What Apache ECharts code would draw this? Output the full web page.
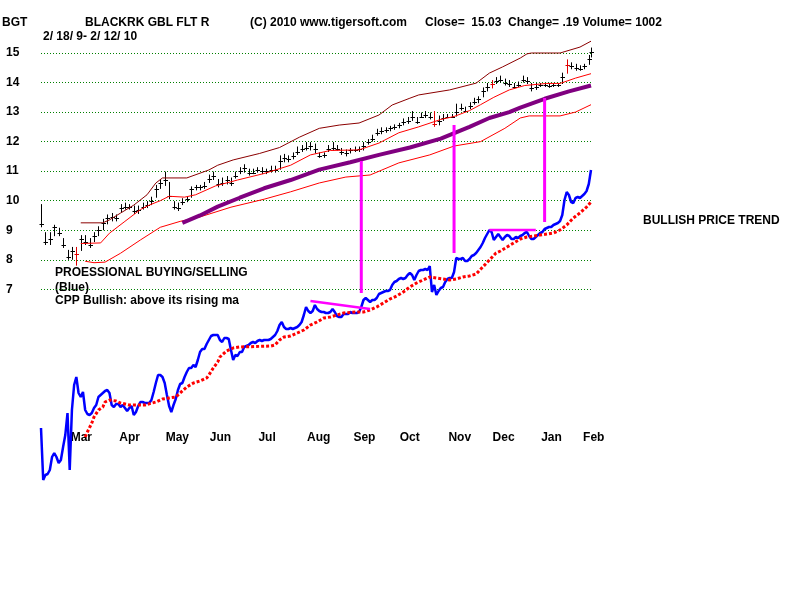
<!DOCTYPE html>
<html>
<head>
<meta charset="utf-8">
<title>BGT - BLACKRK GBL FLT R</title>
<script src="https://cdn.jsdelivr.net/npm/echarts@6/dist/echarts.min.js"></script>
<style>
  html, body { margin: 0; padding: 0; background: #fff; }
  #chart { width: 800px; height: 600px; }
</style>
</head>
<body>
<div id="chart"></div>
<script>
const FONT = '"Liberation Sans", Arial, sans-serif'

// trading day index (0 = 2/18/09 ... 249 = 2/12/10)
const monthDays = [8, 30, 51, 71, 93, 115, 136, 157, 179, 199, 221, 240]
const monthNames = ['Mar', 'Apr', 'May', 'Jun', 'Jul', 'Aug', 'Sep', 'Oct', 'Nov', 'Dec', 'Jan', 'Feb']

// price bars: [day, low, high, close]
const priceBars = [
  [0, 9.1, 9.85, 9.2], [2, 8.5, 8.9, 8.6], [4, 8.5, 8.9, 8.7], [6, 8.8, 9.15, 9.1],
  [8, 8.8, 9.05, 8.9], [10, 8.4, 8.7, 8.5], [12, 8.0, 8.3, 8.1], [14, 8.0, 8.4, 8.3],
  [16, 7.8, 8.4, 8.2], [18, 8.3, 8.8, 8.7], [20, 8.5, 8.8, 8.6], [22, 8.4, 8.7, 8.5],
  [24, 8.6, 8.9, 8.8], [26, 8.8, 9.1, 9.0], [28, 9.0, 9.35, 9.25], [30, 9.2, 9.5, 9.4],
  [32, 9.3, 9.55, 9.45], [34, 9.3, 9.5, 9.4], [36, 9.6, 9.85, 9.75], [38, 9.7, 9.9, 9.8],
  [40, 9.7, 9.85, 9.8], [42, 9.55, 9.8, 9.65], [44, 9.55, 9.8, 9.7], [46, 9.7, 9.9, 9.8],
  [48, 9.75, 9.95, 9.85], [50, 9.85, 10.1, 10.0], [52, 10.1, 10.5, 10.4], [54, 10.4, 10.7, 10.6],
  [56, 10.5, 10.95, 10.7], [58, 10.05, 10.6, 10.15], [60, 9.7, 9.95, 9.8], [62, 9.65, 9.9, 9.75],
  [64, 9.85, 10.05, 9.95], [66, 9.95, 10.1, 10.05], [68, 10.1, 10.45, 10.4], [70, 10.35, 10.5, 10.45],
  [72, 10.35, 10.5, 10.45], [74, 10.4, 10.6, 10.5], [76, 10.6, 10.85, 10.75], [78, 10.7, 10.95, 10.85],
  [80, 10.45, 10.7, 10.55], [82, 10.5, 10.75, 10.6], [84, 10.55, 10.8, 10.7], [86, 10.5, 10.75, 10.6],
  [88, 10.75, 10.95, 10.85], [90, 10.9, 11.1, 11.0], [92, 10.95, 11.2, 11.1], [94, 10.85, 11.05, 10.95],
  [96, 10.9, 11.05, 10.95], [98, 10.95, 11.1, 11.05], [100, 10.9, 11.1, 11.0], [102, 10.9, 11.05, 11.0],
  [104, 10.95, 11.15, 11.05], [106, 10.95, 11.15, 11.05], [108, 11.05, 11.5, 11.35], [110, 11.3, 11.55, 11.45],
  [112, 11.3, 11.5, 11.4], [114, 11.4, 11.6, 11.5], [116, 11.55, 11.8, 11.65], [118, 11.65, 11.85, 11.75],
  [120, 11.7, 11.95, 11.8], [122, 11.7, 11.95, 11.85], [124, 11.6, 11.9, 11.75], [126, 11.45, 11.6, 11.5],
  [128, 11.45, 11.6, 11.55], [130, 11.65, 11.85, 11.75], [132, 11.7, 11.95, 11.8], [134, 11.7, 11.85, 11.75],
  [136, 11.55, 11.75, 11.65], [138, 11.5, 11.7, 11.6], [140, 11.6, 11.75, 11.7], [142, 11.65, 11.8, 11.7],
  [144, 11.65, 11.8, 11.75], [146, 11.7, 11.95, 11.85], [148, 11.9, 12.05, 12.0], [150, 12.0, 12.2, 12.1],
  [152, 12.2, 12.4, 12.3], [154, 12.25, 12.45, 12.35], [156, 12.3, 12.45, 12.4], [158, 12.35, 12.5, 12.45],
  [160, 12.4, 12.55, 12.5], [162, 12.45, 12.6, 12.55], [164, 12.55, 12.75, 12.65], [166, 12.6, 12.8, 12.7],
  [168, 12.7, 13.0, 12.85], [170, 12.6, 12.8, 12.65], [172, 12.8, 12.95, 12.85], [174, 12.8, 13.0, 12.9],
  [176, 12.75, 12.95, 12.85], [178, 12.5, 13.0, 12.6], [180, 12.55, 12.85, 12.7], [182, 12.7, 12.9, 12.8],
  [184, 12.8, 12.9, 12.85], [186, 12.8, 12.9, 12.85], [188, 12.85, 13.25, 13.0], [190, 13.05, 13.25, 13.15],
  [192, 13.0, 13.15, 13.05], [194, 13.1, 13.3, 13.2], [196, 13.25, 13.45, 13.35], [198, 13.3, 13.5, 13.45],
  [200, 13.5, 13.8, 13.7], [202, 13.7, 13.95, 13.85], [204, 13.8, 14.05, 13.95], [206, 13.95, 14.15, 14.05],
  [208, 14.0, 14.2, 14.1], [210, 13.9, 14.1, 14.0], [212, 13.85, 14.05, 13.95], [214, 13.8, 13.95, 13.85],
  [216, 13.85, 14.0, 13.9], [218, 14.0, 14.2, 14.1], [220, 13.95, 14.15, 14.05], [222, 13.7, 13.95, 13.8],
  [224, 13.75, 13.95, 13.85], [226, 13.85, 13.95, 13.9], [228, 13.85, 13.95, 13.9], [230, 13.82, 13.95, 13.88],
  [232, 13.85, 13.95, 13.9], [234, 13.85, 13.95, 13.9], [236, 13.95, 14.3, 14.2], [238, 14.3, 14.75, 14.6],
  [240, 14.45, 14.65, 14.55], [242, 14.4, 14.6, 14.5], [244, 14.4, 14.55, 14.45], [246, 14.45, 14.6, 14.55],
  [248, 14.6, 14.9, 14.8], [249, 14.85, 15.15, 15.03]
]
const redBarDays = [16, 178, 204, 238]

// bands and moving average: [day, price]
const upperBand = [
  [18, 9.25], [28, 9.25], [31, 9.35], [36, 9.58], [42, 9.85], [48, 10.2], [52, 10.6], [55, 10.77],
  [66, 10.77], [76, 11.04], [80, 11.2], [87, 11.38], [99, 11.6], [108, 11.8], [117, 12.15], [126, 12.45],
  [135, 12.56], [144, 12.63], [153, 12.9], [159, 13.24], [167, 13.47], [171, 13.58], [185, 13.75],
  [197, 13.98], [203, 14.32], [209, 14.53], [217, 14.83], [220, 14.97], [222, 15.0], [235, 15.0],
  [244, 15.2], [249, 15.4]
]
const middleBand = [
  [18, 8.55], [27, 8.57], [31, 8.9], [38, 9.3], [45, 9.7], [49, 9.85], [54, 10.0], [58, 10.15],
  [65, 10.12], [70, 10.2], [79, 10.5], [89, 10.7], [101, 10.92], [113, 11.2], [122, 11.55], [131, 11.7],
  [144, 11.72], [153, 11.95], [162, 12.3], [171, 12.5], [181, 12.75], [187, 12.85], [194, 13.05],
  [199, 13.25], [205, 13.5], [212, 13.75], [219, 13.9], [229, 13.97], [235, 13.97], [242, 14.15], [249, 14.3]
]
const priceMa = [
  [64, 9.25], [72, 9.5], [80, 9.8], [90, 10.1], [101, 10.42], [113, 10.7], [126, 11.05], [140, 11.3],
  [153, 11.55], [167, 11.8], [181, 12.1], [194, 12.5], [203, 12.8], [212, 13.0], [217, 13.15],
  [228, 13.45], [239, 13.7], [249, 13.9]
]
const lowerBand = [
  [20, 7.95], [24, 7.9], [29, 7.92], [36, 8.22], [45, 8.67], [54, 9.1], [63, 9.3], [72, 9.45],
  [86, 9.78], [101, 10.05], [113, 10.3], [126, 10.6], [138, 10.8], [149, 10.87], [162, 11.28],
  [176, 11.55], [187, 11.85], [199, 12.0], [210, 12.45], [217, 12.8], [221, 12.87], [235, 12.87],
  [242, 13.0], [249, 13.25]
]

// professional buying/selling (CPP), one value per trading day
const cppValues = [
  31, 5, 7.5, 8, 10, 16.5, 18.5, 16.5, 13.5, 15,
  21.5, 27.5, 38.5, 10, 40, 52.5, 56.5, 48.5, 46.5, 49,
  40, 38, 37.5, 38.5, 41, 42.5, 46.5, 47.5, 48.5, 49.5,
  50, 48.5, 42.5, 41.5, 43, 43, 41.5, 42.5, 41, 39.5,
  41, 42, 37.5, 39, 42, 44, 44, 43.5, 43.5, 43.5,
  45, 49, 53.5, 57.5, 57.5, 56.5, 53.5, 47.5, 42, 39,
  42.5, 45.5, 50, 53, 53.5, 56.5, 59, 61, 61, 62.5,
  61.5, 65, 69, 70.5, 70.5, 73, 75, 77, 77.5, 77.5,
  77.5, 75, 74, 76, 76, 75.5, 70, 65, 67.5, 67,
  69, 69, 71.5, 72, 72.5, 73.5, 74, 73.5, 74.5, 75,
  74.5, 75, 75, 75, 75.5, 76.5, 77.5, 79.5, 82.5, 84,
  81.5, 80.5, 80.5, 81, 80.5, 81, 81.5, 82.5, 84, 87.5,
  91.5, 89.5, 88.5, 89.5, 92.5, 90.5, 89.5, 89, 89, 88.5,
  88.5, 89, 90.5, 89, 87, 86.5, 86.5, 88, 88, 88,
  89, 88.5, 88.5, 88.5, 89, 91.5, 95, 96, 95, 94,
  95, 95, 96, 98, 98.5, 99, 99.5, 99.5, 100, 102.5,
  104, 104.5, 105.5, 106, 105.5, 106, 107.5, 108.5, 107.5, 105,
  107.5, 109.5, 110, 110, 110.5, 110, 112, 99, 102.5, 97.5,
  99.5, 101, 101.5, 104, 105.5, 106, 106, 109, 116, 115.5,
  115.5, 116, 114.5, 114.5, 115.5, 117, 117.5, 118.5, 120, 121.5,
  123.5, 126, 128, 130, 129, 125, 126.5, 128, 126.5, 125,
  126.5, 127.5, 127, 125.5, 125.5, 126.5, 126, 127, 127.5, 128.5,
  129, 127, 125.5, 125.5, 126.5, 127.5, 128.5, 129, 130.5, 131,
  131.5, 131.5, 132.5, 133, 133.5, 134.5, 137.5, 145, 149, 147.5,
  144, 143.5, 146, 146.5, 146, 147, 148, 149.5, 153, 160
]
// its moving average: [day, value]
const cppMa = [
  [20, 26.5], [21, 29], [23, 33.5], [24, 36.5], [26, 40], [28, 41.5], [29, 44], [31, 45],
  [34, 44.5], [36, 43.5], [40, 42.5], [47, 42.5], [52, 44], [55, 45.5], [61, 46.5], [63, 48.5],
  [66, 51.5], [69, 53.5], [72, 54.5], [75, 56], [76, 57.5], [78, 61], [80, 64], [81, 66.5],
  [84, 69.5], [87, 71], [90, 71.5], [104, 72], [106, 72.5], [108, 75], [110, 76.5], [113, 77],
  [116, 78.5], [119, 80], [122, 82.5], [125, 84], [128, 86], [131, 86.5], [134, 87.5], [137, 88.5],
  [143, 89], [146, 89], [149, 90], [152, 91.5], [155, 93.5], [158, 95.5], [161, 97], [164, 99],
  [167, 101.5], [170, 103.5], [173, 105], [176, 106.5], [179, 106], [182, 105.5], [185, 105],
  [188, 105.5], [191, 106.5], [194, 107], [197, 108], [200, 111.5], [203, 115], [206, 118.5],
  [208, 119.5], [211, 121.5], [214, 123.5], [217, 125.5], [220, 126.5], [223, 127], [226, 127.5],
  [229, 128], [232, 128.5], [235, 130], [238, 132.5], [241, 136], [244, 138.5], [247, 141.5], [249, 144]
]

// magenta signal lines, in CPP units
const signalLines = [
  [[145, 98.5], [145, 164.5]],
  [[187, 118.5], [187, 182.5]],
  [[228, 134], [228, 196]],
  [[122, 94.5], [149, 90.5]],
  [[203, 130], [224, 130]]
]

const chart = echarts.init(document.getElementById('chart'))

function renderBar(params, api) {
  const low = api.coord([api.value(0), api.value(1)])
  const high = api.coord([api.value(0), api.value(2)])
  const close = api.coord([api.value(0), api.value(3)])
  const x = Math.round(low[0]) + 0.5
  const cy = Math.round(close[1]) + 0.5
  const color = redBarDays.includes(api.value(0)) ? '#e00000' : '#000000'
  return {
    type: 'group',
    children: [
      { type: 'line', shape: { x1: x, y1: low[1], x2: x, y2: high[1] - 1 }, style: { stroke: color, lineWidth: 1 } },
      { type: 'line', shape: { x1: x - 2, y1: cy, x2: x + 2.5, y2: cy }, style: { stroke: color, lineWidth: 1 } }
    ]
  }
}

function priceLine(data, color, width) {
  return {
    type: 'line',
    xAxisIndex: 0,
    yAxisIndex: 0,
    data: data,
    symbol: 'none',
    clip: false,
    silent: true,
    lineStyle: { color: color, width: width }
  }
}

const textStyle = { font: 'bold 12px ' + FONT, fill: '#000', verticalAlign: 'middle' }
function label(text, x, y) {
  return { type: 'text', x: x, y: y, style: Object.assign({ text: text }, textStyle) }
}

const option = {
  backgroundColor: '#ffffff',
  animation: false,
  grid: [
    { left: 41, right: 209, top: 53, bottom: 310.7 },
    { left: 41, right: 209, top: 40, bottom: 110 }
  ],
  xAxis: [
    { gridIndex: 0, type: 'value', min: 0, max: 249, show: false },
    {
      gridIndex: 1,
      type: 'value',
      min: 0,
      max: 249,
      offset: -60,
      axisLine: { show: false },
      axisTick: { show: false },
      splitLine: { show: false },
      axisLabel: {
        customValues: monthDays,
        formatter: val => monthNames[monthDays.indexOf(val)],
        align: 'left',
        padding: [0, 0, 0, 12],
        margin: 2,
        fontFamily: FONT,
        fontWeight: 'bold',
        fontSize: 12,
        color: '#000'
      }
    }
  ],
  yAxis: [
    {
      gridIndex: 0,
      type: 'value',
      min: 7,
      max: 15,
      interval: 1,
      axisLine: { show: false },
      axisTick: { show: false },
      axisLabel: {
        align: 'left',
        margin: 35,
        fontFamily: FONT,
        fontWeight: 'bold',
        fontSize: 12,
        color: '#000'
      },
      splitLine: {
        lineStyle: { color: '#008000', width: 1, type: [1, 2] }
      }
    },
    { gridIndex: 1, type: 'value', min: 0, max: 225, show: false }
  ],
  graphic: [
    label('BGT', 2, 23),
    label('BLACKRK GBL FLT R', 85, 23),
    label('(C) 2010 www.tigersoft.com', 250, 23),
    label('Close=  15.03  Change= .19 Volume= 1002', 425, 23),
    label('2/ 18/ 9- 2/ 12/ 10', 43, 37),
    label('PROESSIONAL BUYING/SELLING', 55, 273),
    label('(Blue)', 55, 288),
    label('CPP Bullish: above its rising ma', 55, 301),
    label('BULLISH PRICE TREND', 643, 221)
  ],
  series: [
    priceLine(upperBand, '#8b0000', 1),
    priceLine(middleBand, '#ff0000', 1),
    priceLine(lowerBand, '#ff0000', 1),
    priceLine(priceMa, '#800080', 4),
    {
      type: 'custom',
      xAxisIndex: 0,
      yAxisIndex: 0,
      renderItem: renderBar,
      encode: { x: 0, y: [1, 2, 3] },
      data: priceBars,
      silent: true,
      z: 3
    },
    {
      type: 'line',
      xAxisIndex: 1,
      yAxisIndex: 1,
      data: cppValues.map((v, i) => [i, v]),
      symbol: 'none',
      clip: false,
      silent: true,
      lineStyle: { color: '#0000ff', width: 2.5 }
    },
    {
      type: 'line',
      xAxisIndex: 1,
      yAxisIndex: 1,
      data: cppMa,
      symbol: 'none',
      clip: false,
      silent: true,
      lineStyle: { color: '#ff0000', width: 3, type: [3, 2] }
    }
  ].concat(signalLines.map(seg => ({
    type: 'line',
    xAxisIndex: 1,
    yAxisIndex: 1,
    data: seg,
    symbol: 'none',
    clip: false,
    silent: true,
    z: 4,
    lineStyle: { color: '#ff00ff', width: seg[0][0] === seg[1][0] ? 3 : 2.5 }
  })))
}

chart.setOption(option)
</script>
</body>
</html>
